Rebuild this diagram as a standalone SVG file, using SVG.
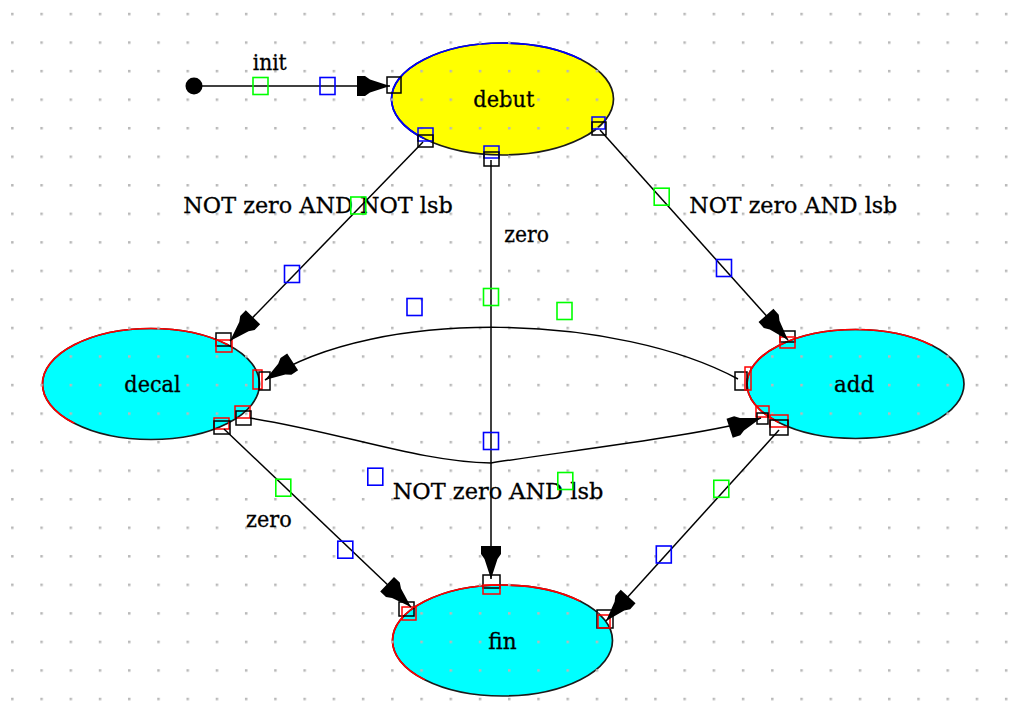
<svg xmlns="http://www.w3.org/2000/svg" width="1027" height="726" viewBox="0 0 1027 726">
  <style>
    .lbl { font-family: "DejaVu Serif", "Liberation Serif", serif; font-size: 22px; fill: #000; stroke: #000; stroke-width: 0.3; }
    .edge { fill: none; stroke: #000; stroke-width: 1.5; }
    .rim-dark { fill: none; stroke: #1a1a1a; stroke-width: 1.7; }
    .rim-red { fill: none; stroke: #ff0000; stroke-width: 1.7; }
    .rim-blue { fill: none; stroke: #0000ff; stroke-width: 1.7; }
    .port { fill: none; stroke: #000; stroke-width: 1.5; }
    .port-red { fill: none; stroke: #ff0000; stroke-width: 1.5; }
    .port-blue { fill: none; stroke: #0000ff; stroke-width: 1.5; }
    .h-green { fill: none; stroke: #00ff00; stroke-width: 1.6; }
    .h-blue { fill: none; stroke: #0000ff; stroke-width: 1.6; }
    .arrow { marker-end: url(#head); }
  </style>
  <defs>
    <pattern id="grid" patternUnits="userSpaceOnUse" x="11.1" y="12.8" width="29.23" height="28.54">
      <rect x="0" y="0" width="2.5" height="2.5" fill="#b8b8b8"/>
    </pattern>
    <marker id="head" markerUnits="userSpaceOnUse" markerWidth="36" markerHeight="24" viewBox="0 0 36 24" refX="34" refY="12" orient="auto">
      <polygon points="34,12 14,5.5 9,2 1,2 1,22 9,22 14,18.5" fill="#000"/>
    </marker>
    <!-- upper-left halves used for the lit part of each outline -->
    <clipPath id="lit-debut"><polygon points="280.5,211 724.5,-13 280.5,-13"/></clipPath>
    <clipPath id="lit-decal"><polygon points="-66,495 368,273 -66,273"/></clipPath>
    <clipPath id="lit-add"><polygon points="638.5,493 1072.5,275 638.5,275"/></clipPath>
    <clipPath id="lit-fin"><polygon points="282.5,751.5 722.5,529.5 282.5,529.5"/></clipPath>
  </defs>

  <rect x="0" y="0" width="1027" height="726" fill="#fff"/>

  <!-- states -->
  <g id="node-debut">
    <ellipse cx="502.5" cy="99" rx="111" ry="56" class="rim-dark" style="fill:#ffff00"/>
    <ellipse cx="502.5" cy="99" rx="111" ry="56" class="rim-blue" clip-path="url(#lit-debut)"/>
    <text class="lbl" x="473.3" y="106.7" textLength="61" lengthAdjust="spacingAndGlyphs">debut</text>
  </g>

  <g id="node-decal">
    <ellipse cx="151" cy="384" rx="108.5" ry="55.5" class="rim-dark" style="fill:#00ffff"/>
    <ellipse cx="151" cy="384" rx="108.5" ry="55.5" class="rim-red" clip-path="url(#lit-decal)"/>
    <text class="lbl" x="124.3" y="391.7" textLength="56.4" lengthAdjust="spacingAndGlyphs">decal</text>
  </g>

  <g id="node-add">
    <ellipse cx="855.5" cy="384" rx="108.5" ry="54.5" class="rim-dark" style="fill:#00ffff"/>
    <ellipse cx="855.5" cy="384" rx="108.5" ry="54.5" class="rim-red" clip-path="url(#lit-add)"/>
    <text class="lbl" x="834" y="392" textLength="40.3" lengthAdjust="spacingAndGlyphs">add</text>
  </g>

  <g id="node-fin">
    <ellipse cx="502.5" cy="640.5" rx="110" ry="55.5" class="rim-dark" style="fill:#00ffff"/>
    <ellipse cx="502.5" cy="640.5" rx="110" ry="55.5" class="rim-red" clip-path="url(#lit-fin)"/>
    <text class="lbl" x="488.3" y="649.3" textLength="28.4" lengthAdjust="spacingAndGlyphs">fin</text>
  </g>

  <!-- dotted canvas grid -->
  <rect x="0" y="0" width="1027" height="726" fill="url(#grid)"/>

  <!-- attachment ports on the state outlines -->
  <g id="ports">
    <rect class="port" x="387" y="77" width="14" height="16"/>
    <rect class="port-blue" x="418" y="128" width="15" height="13"/>
    <rect class="port" x="418" y="135" width="15" height="12"/>
    <rect class="port-blue" x="484" y="146" width="15" height="12"/>
    <rect class="port" x="484" y="152" width="15" height="14"/>
    <rect class="port-blue" x="592" y="117" width="13" height="12"/>
    <rect class="port" x="592" y="122" width="14" height="13"/>

    <rect class="port" x="216" y="333" width="15" height="13"/>
    <rect class="port-red" x="216" y="340" width="16" height="12"/>
    <rect class="port-red" x="253" y="370" width="9" height="19"/>
    <rect class="port" x="259" y="372" width="11" height="18"/>
    <rect class="port-red" x="235" y="406" width="15" height="12"/>
    <rect class="port" x="236" y="411" width="15" height="14"/>
    <rect class="port-red" x="214" y="418" width="15" height="11"/>
    <rect class="port" x="214" y="421" width="16" height="13"/>

    <rect class="port" x="780" y="331" width="15" height="11"/>
    <rect class="port-red" x="780" y="337" width="15" height="11"/>
    <rect class="port" x="735" y="372" width="12" height="18"/>
    <rect class="port-red" x="745" y="367" width="6" height="23"/>
    <rect class="port-red" x="756" y="406" width="13" height="11"/>
    <rect class="port" x="757" y="413" width="11" height="11"/>
    <rect class="port-red" x="770" y="415" width="18" height="12"/>
    <rect class="port" x="770" y="420" width="18" height="15"/>

    <rect class="port" x="399" y="602" width="15" height="14"/>
    <rect class="port-red" x="402" y="607" width="14" height="13"/>
    <rect class="port" x="483" y="575" width="17" height="13"/>
    <rect class="port-red" x="483" y="585" width="17" height="9"/>
    <rect class="port" x="597" y="610" width="16" height="18"/>
    <rect class="port-red" x="598" y="615" width="12" height="13"/>
  </g>

  <!-- transitions -->
  <g id="connectors">
    <!-- initial transition -->
    <circle cx="194" cy="86" r="8.5" fill="#000"/>
    <path class="edge arrow" d="M194,86 L390,86"/>
    <text class="lbl" x="252.7" y="70" textLength="34" lengthAdjust="spacingAndGlyphs">init</text>
    <rect class="h-green" x="253" y="77.5" width="15" height="17"/>
    <rect class="h-blue" x="320" y="77.5" width="15" height="17"/>

    <!-- debut to decal -->
    <path class="edge arrow" d="M423,142 L230,341"/>
    <text class="lbl" x="183.3" y="213.3" textLength="269.4" lengthAdjust="spacingAndGlyphs">NOT zero AND NOT lsb</text>
    <rect class="h-green" x="350.8" y="197" width="15" height="17"/>
    <rect class="h-blue" x="284.5" y="265.5" width="15" height="17"/>

    <!-- debut to fin -->
    <path class="edge arrow" d="M491,160 L491,579"/>
    <text class="lbl" x="504.3" y="241.7" textLength="44.7" lengthAdjust="spacingAndGlyphs">zero</text>
    <rect class="h-green" x="483.5" y="288.5" width="15" height="17"/>
    <rect class="h-blue" x="483.5" y="432.5" width="15" height="17"/>

    <!-- debut to add -->
    <path class="edge arrow" d="M600,130 L788,340"/>
    <text class="lbl" x="689.3" y="213.3" textLength="208" lengthAdjust="spacingAndGlyphs">NOT zero AND lsb</text>
    <rect class="h-green" x="654.2" y="188.2" width="15" height="17"/>
    <rect class="h-blue" x="716.5" y="259.5" width="15" height="17"/>

    <!-- add back to decal -->
    <path class="edge arrow" d="M738,379 C620,315 380,305 265,380"/>
    <rect class="h-blue" x="407" y="298.5" width="15" height="17"/>
    <rect class="h-green" x="557" y="302.5" width="15" height="17"/>

    <!-- decal to add -->
    <path class="edge arrow" d="M250,418 C340,432 420,462 491,463 C560,452 712,434 761,418"/>
    <text class="lbl" x="392.7" y="499.3" textLength="210.6" lengthAdjust="spacingAndGlyphs">NOT zero AND lsb</text>
    <rect class="h-blue" x="367.8" y="468.2" width="15" height="17"/>
    <rect class="h-green" x="557.8" y="472.5" width="15" height="17"/>

    <!-- decal to fin -->
    <path class="edge arrow" d="M224,429 L411,607"/>
    <text class="lbl" x="246" y="527.3" textLength="45.7" lengthAdjust="spacingAndGlyphs">zero</text>
    <rect class="h-green" x="275.8" y="479.2" width="15" height="17"/>
    <rect class="h-blue" x="337.8" y="541.2" width="15" height="17"/>

    <!-- add to fin -->
    <path class="edge arrow" d="M779,430 L606,621"/>
    <rect class="h-green" x="713.8" y="480.3" width="15" height="17"/>
    <rect class="h-blue" x="656.3" y="546" width="15" height="17"/>
  </g>
</svg>
